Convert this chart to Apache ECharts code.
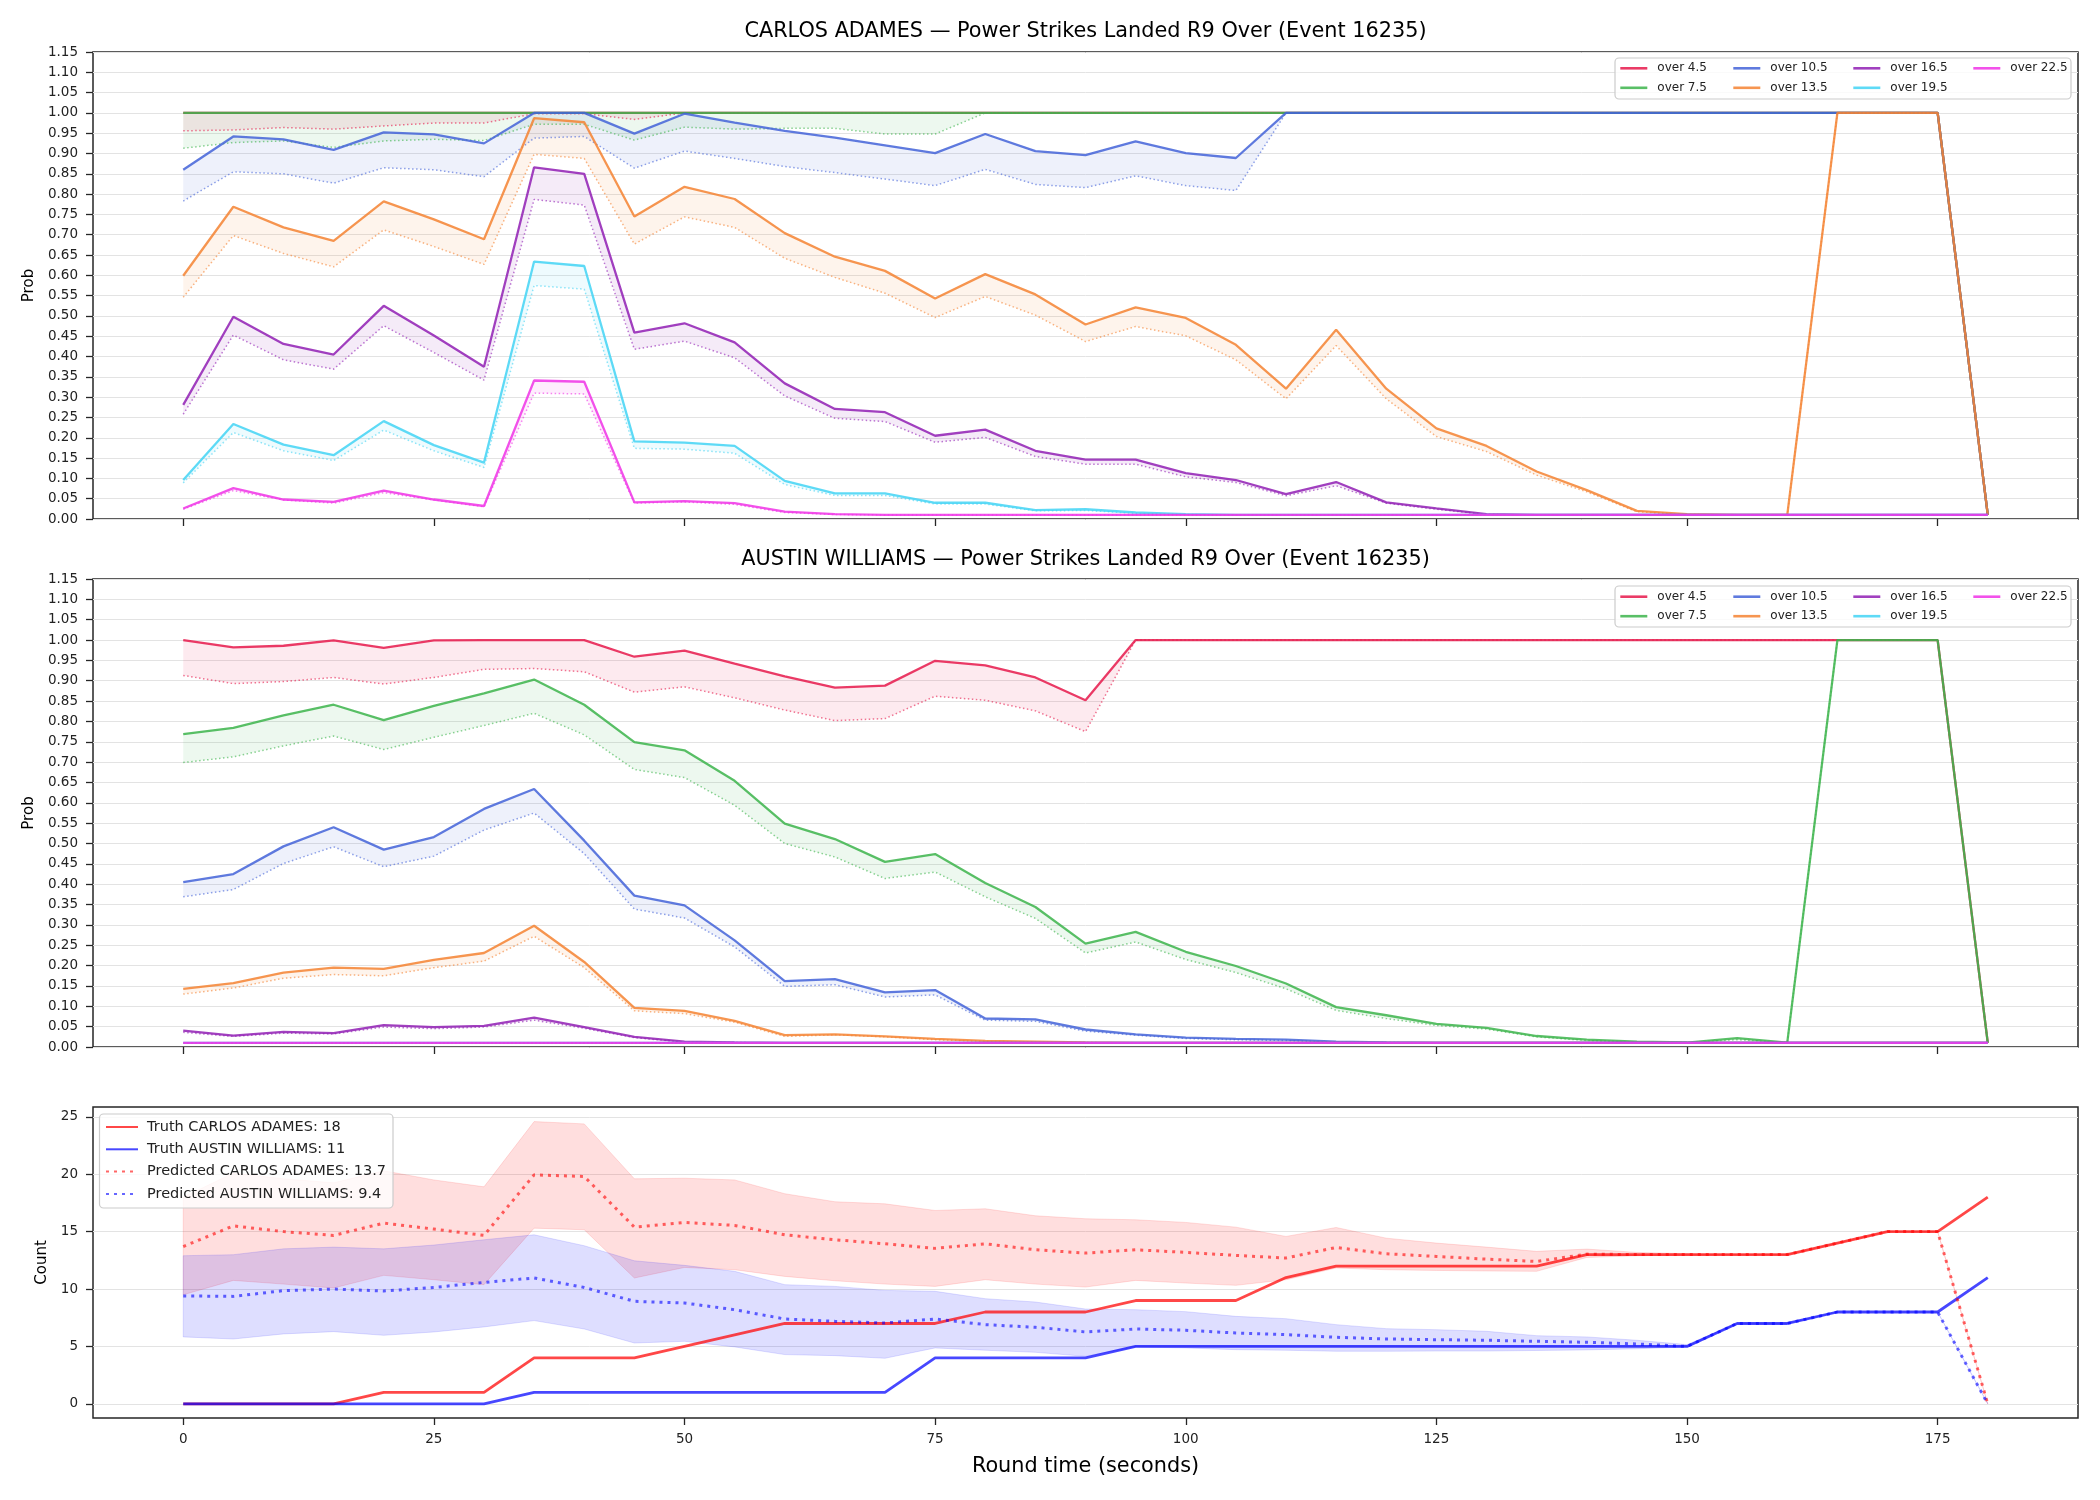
<!DOCTYPE html>
<html><head><meta charset="utf-8">
<script src="https://cdn.jsdelivr.net/npm/echarts@6/dist/echarts.min.js"></script>
<style>html,body{margin:0;padding:0;background:#fff}#c{width:2100px;height:1500px}</style>
</head><body><div id="c"></div>
<script>
// ---------------- DATA ----------------
const times = [0,5,10,15,20,25,30,35,40,45,50,55,60,65,70,75,80,85,90,95,100,105,110,115,120,125,130,135,140,145,150,155,160,165,170,175,180];
const lineLabels = ['over 4.5','over 7.5','over 10.5','over 13.5','over 16.5','over 19.5','over 22.5'];
const xTicks = [0,25,50,75,100,125,150,175];
const countTicks = [0,5,10,15,20,25];

// CARLOS ADAMES (top panel): solid = market line, Pred = dotted line
const adamesOver45     = [1,1,1,1,1,1,1,1,1,1, 1,1,1,1,1,1,1,1,1,1, 1,1,1,1,1,1,1,1,1,1, 1,1,1,1,1,1, 0.01];
const adamesOver45Pred = [0.956,0.958,0.964,0.960,0.968,0.975,0.975,0.998,0.998,0.984, 1,1,1,1,1,1,1,1,1,1, 1,1,1,1,1,1,1,1,1,1, 1,1,1,1,1,1, 0.01];
const adamesOver75     = [1,1,1,1,1,1,1,1,1,1, 1,1,1,1,1,1,1,1,1,1, 1,1,1,1,1,1,1,1,1,1, 1,1,1,1,1,1, 0.01];
const adamesOver75Pred = [0.913,0.927,0.931,0.915,0.931,0.935,0.932,0.972,0.972,0.933, 0.965,0.960,0.962,0.962,0.948,0.948,1,1,1,1, 1,1,1,1,1,1,1,1,1,1, 1,1,1,1,1,1, 0.01];
const adamesOver105     = [0.860,0.942,0.935,0.909,0.952,0.947,0.925,1,1,0.949, 0.998,0.976,0.956,0.939,0.920,0.901,0.948,0.906,0.896,0.930, 0.901,0.889,1,1,1,1,1,1,1,1, 1,1,1,1,1,1, 0.01];
const adamesOver105Pred = [0.783,0.855,0.850,0.827,0.865,0.860,0.843,0.938,0.942,0.864, 0.906,0.888,0.868,0.853,0.837,0.821,0.861,0.824,0.816,0.845, 0.821,0.809,1,1,1,1,1,1,1,1, 1,1,1,1,1,1, 0.01];
const adamesOver135     = [0.599,0.769,0.718,0.685,0.782,0.738,0.689,0.987,0.977,0.745, 0.818,0.788,0.704,0.646,0.611,0.543,0.603,0.553,0.479,0.521, 0.495,0.429,0.321,0.466,0.321,0.223,0.180,0.117,0.071,0.020, 0.012,0.010,0.010,1,1,1, 0.01];
const adamesOver135Pred = [0.546,0.698,0.654,0.621,0.712,0.671,0.627,0.898,0.888,0.677, 0.744,0.718,0.642,0.595,0.556,0.496,0.548,0.502,0.437,0.474, 0.451,0.392,0.296,0.427,0.296,0.203,0.166,0.108,0.067,0.018, 0.011,0.010,0.010,1,1,1, 0.01];
const adamesOver165     = [0.281,0.498,0.431,0.405,0.525,0.452,0.375,0.866,0.850,0.459, 0.482,0.435,0.334,0.271,0.263,0.205,0.220,0.168,0.146,0.146, 0.113,0.096,0.061,0.091,0.041,0.026,0.012,0.010,0.010,0.010, 0.010,0.010,0.010,0.010,0.010,0.010, 0.010];
const adamesOver165Pred = [0.258,0.453,0.392,0.369,0.476,0.410,0.342,0.787,0.773,0.418, 0.438,0.397,0.303,0.248,0.240,0.189,0.201,0.154,0.135,0.135, 0.104,0.090,0.057,0.082,0.039,0.024,0.011,0.010,0.010,0.010, 0.010,0.010,0.010,0.010,0.010,0.010, 0.010];
const adamesOver195     = [0.096,0.234,0.183,0.157,0.241,0.182,0.139,0.634,0.623,0.191, 0.188,0.180,0.094,0.063,0.063,0.040,0.040,0.022,0.024,0.016, 0.012,0.010,0.010,0.010,0.010,0.010,0.010,0.010,0.010,0.010, 0.010,0.010,0.010,0.010,0.010,0.010, 0.010];
const adamesOver195Pred = [0.089,0.213,0.168,0.144,0.219,0.168,0.127,0.575,0.566,0.174, 0.172,0.162,0.085,0.058,0.058,0.037,0.037,0.020,0.021,0.014, 0.011,0.010,0.010,0.010,0.010,0.010,0.010,0.010,0.010,0.010, 0.010,0.010,0.010,0.010,0.010,0.010, 0.010];
const adamesOver225     = [0.026,0.076,0.048,0.042,0.070,0.048,0.032,0.341,0.338,0.041, 0.044,0.039,0.018,0.012,0.010,0.010,0.010,0.010,0.010,0.010, 0.010,0.010,0.010,0.010,0.010,0.010,0.010,0.010,0.010,0.010, 0.010,0.010,0.010,0.010,0.010,0.010, 0.010];
const adamesOver225Pred = [0.024,0.070,0.047,0.039,0.065,0.047,0.030,0.310,0.308,0.039, 0.042,0.036,0.016,0.011,0.010,0.010,0.010,0.010,0.010,0.010, 0.010,0.010,0.010,0.010,0.010,0.010,0.010,0.010,0.010,0.010, 0.010,0.010,0.010,0.010,0.010,0.010, 0.010];

// AUSTIN WILLIAMS (middle panel)
const williamsOver45     = [1.000,0.982,0.986,0.999,0.981,0.999,1.000,1.000,1.000,0.959, 0.974,0.942,0.911,0.883,0.888,0.949,0.938,0.908,0.852,1, 1,1,1,1,1,1,1,1,1,1, 1,1,1,1,1,1, 0.01];
const williamsOver45Pred = [0.913,0.893,0.898,0.908,0.892,0.908,0.928,0.930,0.922,0.872, 0.885,0.858,0.828,0.802,0.807,0.862,0.852,0.826,0.775,1, 1,1,1,1,1,1,1,1,1,1, 1,1,1,1,1,1, 0.01];
const williamsOver75     = [0.769,0.784,0.815,0.841,0.803,0.838,0.869,0.903,0.841,0.749, 0.729,0.654,0.549,0.511,0.455,0.474,0.403,0.344,0.254,0.283, 0.234,0.199,0.156,0.098,0.078,0.057,0.047,0.027,0.018,0.013, 0.011,0.022,0.011,1,1,1, 0.01];
const williamsOver75Pred = [0.699,0.713,0.740,0.764,0.731,0.761,0.790,0.820,0.767,0.682, 0.662,0.594,0.500,0.467,0.414,0.430,0.369,0.316,0.231,0.258, 0.215,0.183,0.143,0.090,0.070,0.053,0.044,0.025,0.016,0.012, 0.011,0.018,0.011,1,1,1, 0.01];
const williamsOver105     = [0.405,0.425,0.493,0.540,0.485,0.516,0.585,0.634,0.507,0.372, 0.348,0.262,0.162,0.167,0.134,0.140,0.070,0.068,0.043,0.031, 0.023,0.020,0.018,0.013,0.011,0.010,0.010,0.010,0.010,0.010, 0.010,0.010,0.010,0.010,0.010,0.010, 0.010];
const williamsOver105Pred = [0.369,0.387,0.451,0.492,0.443,0.469,0.533,0.575,0.475,0.339, 0.317,0.246,0.149,0.153,0.123,0.128,0.066,0.063,0.039,0.029, 0.021,0.018,0.016,0.012,0.011,0.010,0.010,0.010,0.010,0.010, 0.010,0.010,0.010,0.010,0.010,0.010, 0.010];
const williamsOver135     = [0.143,0.157,0.183,0.195,0.192,0.214,0.231,0.298,0.209,0.096, 0.089,0.064,0.029,0.031,0.026,0.020,0.015,0.013,0.011,0.010, 0.010,0.010,0.010,0.010,0.010,0.010,0.010,0.010,0.010,0.010, 0.010,0.010,0.010,0.010,0.010,0.010, 0.010];
const williamsOver135Pred = [0.130,0.145,0.169,0.178,0.175,0.195,0.211,0.272,0.195,0.089, 0.082,0.061,0.026,0.030,0.025,0.018,0.014,0.012,0.011,0.010, 0.010,0.010,0.010,0.010,0.010,0.010,0.010,0.010,0.010,0.010, 0.010,0.010,0.010,0.010,0.010,0.010, 0.010];
const williamsOver165     = [0.040,0.028,0.037,0.034,0.054,0.049,0.052,0.072,0.049,0.025, 0.013,0.011,0.010,0.010,0.010,0.010,0.010,0.010,0.010,0.010, 0.010,0.010,0.010,0.010,0.010,0.010,0.010,0.010,0.010,0.010, 0.010,0.010,0.010,0.010,0.010,0.010, 0.010];
const williamsOver165Pred = [0.036,0.026,0.034,0.032,0.049,0.045,0.049,0.066,0.046,0.023, 0.012,0.011,0.010,0.010,0.010,0.010,0.010,0.010,0.010,0.010, 0.010,0.010,0.010,0.010,0.010,0.010,0.010,0.010,0.010,0.010, 0.010,0.010,0.010,0.010,0.010,0.010, 0.010];
const williamsOver195     = [0.010,0.010,0.010,0.010,0.010,0.010,0.010,0.010,0.010,0.010, 0.010,0.010,0.010,0.010,0.010,0.010,0.010,0.010,0.010,0.010, 0.010,0.010,0.010,0.010,0.010,0.010,0.010,0.010,0.010,0.010, 0.010,0.010,0.010,0.010,0.010,0.010, 0.010];
const williamsOver195Pred = [0.010,0.010,0.010,0.010,0.010,0.010,0.010,0.010,0.010,0.010, 0.010,0.010,0.010,0.010,0.010,0.010,0.010,0.010,0.010,0.010, 0.010,0.010,0.010,0.010,0.010,0.010,0.010,0.010,0.010,0.010, 0.010,0.010,0.010,0.010,0.010,0.010, 0.010];
const williamsOver225     = [0.010,0.010,0.010,0.010,0.010,0.010,0.010,0.010,0.010,0.010, 0.010,0.010,0.010,0.010,0.010,0.010,0.010,0.010,0.010,0.010, 0.010,0.010,0.010,0.010,0.010,0.010,0.010,0.010,0.010,0.010, 0.010,0.010,0.010,0.010,0.010,0.010, 0.010];
const williamsOver225Pred = [0.010,0.010,0.010,0.010,0.010,0.010,0.010,0.010,0.010,0.010, 0.010,0.010,0.010,0.010,0.010,0.010,0.010,0.010,0.010,0.010, 0.010,0.010,0.010,0.010,0.010,0.010,0.010,0.010,0.010,0.010, 0.010,0.010,0.010,0.010,0.010,0.010, 0.010];

// Count panel
const truthAdames    = [0,0,0,0,1,1,1,4,4,4, 5,6,7,7,7,7,8,8,8,9, 9,9,11,12,12,12,12,12,13,13, 13,13,13,14,15,15, 18];
const truthWilliams  = [0,0,0,0,0,0,0,1,1,1, 1,1,1,1,1,4,4,4,4,5, 5,5,5,5,5,5,5,5,5,5, 5,7,7,8,8,8, 11];
const predAdames     = [13.7,15.5,15.0,14.67,15.74,15.22,14.67,19.94,19.8,15.39, 15.8,15.54,14.72,14.29,13.94,13.54,13.94,13.42,13.13,13.42, 13.19,12.93,12.7,13.62,13.07,12.84,12.6,12.4,13.04,13.0, 13.0,13.0,13.0,14.0,15.0,15.0, 0];
const predWilliams   = [9.4,9.36,9.86,10.0,9.83,10.14,10.58,10.96,10.14,8.93, 8.78,8.2,7.39,7.19,7.04,7.39,6.9,6.67,6.26,6.52, 6.41,6.17,6.03,5.8,5.65,5.59,5.54,5.45,5.36,5.22, 5.0,7,7,8,8,8, 0];
const lowAdames      = [9.5,10.75,10.43,10.09,11.19,10.81,10.38,15.3,15.16,10.96, 11.88,11.68,11.1,10.72,10.43,10.23,10.81,10.43,10.17,10.75, 10.52,10.32,10.81,11.83,11.68,11.62,11.57,11.54,12.75,12.9, 12.96,13,13,14,15,15, 0];
const highAdames     = [18.0,20.1,19.6,19.25,20.3,19.5,18.9,24.58,24.38,19.6, 19.65,19.5,18.3,17.6,17.42,16.84,16.99,16.38,16.12,16.03, 15.8,15.39,14.58,15.36,14.43,14.0,13.65,13.28,13.48,13.19, 13.07,13,13,14,15,15, 0];
const lowWilliams    = [5.83,5.65,6.09,6.29,5.97,6.26,6.7,7.25,6.52,5.3, 5.45,4.96,4.29,4.2,3.97,4.87,4.67,4.49,4.14,4.96, 4.87,4.72,4.67,4.58,4.58,4.6,4.6,4.65,4.7,4.8, 4.95,7,7,8,8,8, 0];
const highWilliams   = [12.9,12.99,13.5,13.65,13.5,13.83,14.29,14.72,13.77,12.46, 12.06,11.54,10.38,10.23,9.88,9.8,9.16,8.87,8.26,8.2, 8.03,7.62,7.42,6.9,6.55,6.46,6.32,5.94,5.83,5.54, 5.16,7,7,8,8,8, 0];

// ---------------- CHART ----------------
const F = 'DejaVu Sans';
const colors = ['#e6194B','#3cb44b','#4363d8','#f58231','#911eb4','#42d4f4','#f032e6'];
function rgba(hex, a) {
  const n = parseInt(hex.slice(1), 16);
  return 'rgba(' + ((n >> 16) & 255) + ',' + ((n >> 8) & 255) + ',' + (n & 255) + ',' + a + ')';
}
const adamesSolid = [adamesOver45, adamesOver75, adamesOver105, adamesOver135, adamesOver165, adamesOver195, adamesOver225];
const adamesPred  = [adamesOver45Pred, adamesOver75Pred, adamesOver105Pred, adamesOver135Pred, adamesOver165Pred, adamesOver195Pred, adamesOver225Pred];
const williamsSolid = [williamsOver45, williamsOver75, williamsOver105, williamsOver135, williamsOver165, williamsOver195, williamsOver225];
const williamsPred  = [williamsOver45Pred, williamsOver75Pred, williamsOver105Pred, williamsOver135Pred, williamsOver165Pred, williamsOver195Pred, williamsOver225Pred];

function pairs(arr) { return times.map((t, i) => [t, arr[i]]); }

function band(gi, lo, hi, fill, stroke) {
  return {
    type: 'custom', xAxisIndex: gi, yAxisIndex: gi, silent: true, z: 2,
    data: times.map((t, i) => [t, lo[i], hi[i]]),
    encode: { x: 0, y: [1, 2] },
    renderItem: function (params, api) {
      if (params.dataIndex !== 0) return null;
      const pts = [];
      for (let i = 0; i < times.length; i++) pts.push(api.coord([times[i], hi[i]]));
      for (let i = times.length - 1; i >= 0; i--) pts.push(api.coord([times[i], lo[i]]));
      return { type: 'polygon', shape: { points: pts },
        style: { fill: fill, stroke: stroke || null, lineWidth: stroke ? 1 : 0 } };
    }
  };
}
function line(gi, name, arr, color, width, dash) {
  return {
    type: 'line', name: name, xAxisIndex: gi, yAxisIndex: gi, data: pairs(arr),
    symbol: 'none', silent: true, z: 3, emphasis: { disabled: true },
    lineStyle: { color: color, width: width, type: dash || 'solid', cap: 'butt' },
    itemStyle: { color: color }
  };
}

const series = [];
[[adamesSolid, adamesPred], [williamsSolid, williamsPred]].forEach(function (set, gi) {
  for (let k = 0; k < 7; k++) {
    series.push(band(gi, set[1][k], set[0][k], rgba(colors[k], 0.09)));
    series.push(line(gi, lineLabels[k] + ' pred ' + gi, set[1][k], rgba(colors[k], 0.6), 1.5, [1.5, 2.5]));
    series.push(line(gi, lineLabels[k], set[0][k], rgba(colors[k], 0.85), 2.3));
  }
});
const nTA = 'Truth CARLOS ADAMES: ' + truthAdames[truthAdames.length - 1];
const nTW = 'Truth AUSTIN WILLIAMS: ' + truthWilliams[truthWilliams.length - 1];
const nPA = 'Predicted CARLOS ADAMES: ' + predAdames[0];
const nPW = 'Predicted AUSTIN WILLIAMS: ' + predWilliams[0];
series.push(band(2, lowAdames, highAdames, 'rgba(255,0,0,0.13)', 'rgba(255,0,0,0.12)'));
series.push(band(2, lowWilliams, highWilliams, 'rgba(0,0,255,0.13)', 'rgba(0,0,255,0.12)'));
series.push(line(2, nTA, truthAdames, 'rgba(255,0,0,0.72)', 2.8));
series.push(line(2, nTW, truthWilliams, 'rgba(0,0,255,0.72)', 2.8));
series.push(line(2, nPA, predAdames, 'rgba(255,0,0,0.6)', 3, [3, 5]));
series.push(line(2, nPW, predWilliams, 'rgba(0,0,255,0.6)', 3, [3, 5]));

const L = 93, W = 1985;
const gridTops = [52, 579, 1107], gridHeights = [467, 468, 311];
const grids = gridTops.map((t, i) => ({
  left: L, width: W, top: t, height: gridHeights[i], show: true,
  borderColor: '#262626', borderWidth: 1.5, backgroundColor: 'transparent',
  containLabel: false, outerBoundsMode: 'none'
}));
const tickStyle = { show: true, length: 7, inside: false, lineStyle: { color: '#262626', width: 1.3 } };
const nameStyle = (size) => ({ fontFamily: F, fontSize: size, fontWeight: 'normal', color: '#000' });
const xAxes = [0, 1, 2].map(i => ({
  type: 'value', gridIndex: i, min: -9, max: 189, position: 'bottom',
  axisLine: { show: false, onZero: false },
  axisTick: Object.assign({ customValues: xTicks }, tickStyle),
  axisLabel: { show: i === 2, customValues: xTicks, margin: 14.5, fontFamily: F, fontSize: 13.5, fontWeight: 'normal', color: '#222' },
  splitLine: { show: false },
  name: i === 2 ? 'Round time (seconds)' : '', nameLocation: 'middle', nameGap: 38,
  nameTextStyle: nameStyle(20.8)
}));
const splitLineStyle = { show: true, lineStyle: { color: '#e3e3e3', width: 1 } };
const yAxes = [0, 1].map(i => ({
  type: 'value', gridIndex: i, min: 0, max: 1.15, interval: 0.05, position: 'left',
  axisLine: { show: false, onZero: false }, axisTick: tickStyle,
  axisLabel: { margin: 15, fontFamily: F, fontSize: 13.5, fontWeight: 'normal', color: '#222', formatter: v => v.toFixed(2) },
  splitLine: splitLineStyle,
  name: 'Prob', nameLocation: 'middle', nameRotate: 90, nameGap: 54,
  nameTextStyle: nameStyle(15)
}));
yAxes.push({
  type: 'value', gridIndex: 2, min: -1.23, max: 25.85, position: 'left',
  axisLine: { show: false, onZero: false },
  axisTick: Object.assign({ customValues: countTicks }, tickStyle),
  axisLabel: { customValues: countTicks, margin: 15, fontFamily: F, fontSize: 13.5, fontWeight: 'normal', color: '#222' },
  splitLine: splitLineStyle,
  name: 'Count', nameLocation: 'middle', nameRotate: 90, nameGap: 43,
  nameTextStyle: nameStyle(15)
});

const legendCols = [['over 4.5', 'over 7.5'], ['over 10.5', 'over 13.5'], ['over 16.5', 'over 19.5'], ['over 22.5']];
const colLefts = [1619, 1732, 1852, 1972];
const legends = [];
[61.3, 589.7].forEach(function (top) {
  legendCols.forEach(function (names, c) {
    legends.push({
      show: true, orient: 'vertical', left: colLefts[c], top: top, padding: 0,
      itemGap: 5.5, itemWidth: 27, itemHeight: 2, data: names, selectedMode: false, z: 10,
      itemStyle: { opacity: 0 }, lineStyle: { width: 2.6 },
      textStyle: { fontFamily: F, fontSize: 12, fontWeight: 'normal', color: '#222', lineHeight: 14, padding: [0, 0, 0, 5] }
    });
  });
});
legends.push({
  show: true, orient: 'vertical', left: 105, top: 1119, padding: 0,
  itemGap: 6.3, itemWidth: 32, itemHeight: 2, data: [nTA, nTW, nPA, nPW], selectedMode: false, z: 10,
  itemStyle: { opacity: 0 },
  textStyle: { fontFamily: F, fontSize: 14.5, fontWeight: 'normal', color: '#222', lineHeight: 16, padding: [0, 0, 0, 4] }
});

const frame = (x, y, w, h) => ({
  type: 'rect', shape: { x: x, y: y, width: w, height: h, r: 4 }, silent: true, z: 8,
  style: { fill: 'rgba(255,255,255,0.8)', stroke: '#cccccc', lineWidth: 1.2 }
});

const chart = echarts.init(document.getElementById('c'), null, { renderer: 'canvas' });
chart.setOption({
  animation: false,
  backgroundColor: '#ffffff',
  title: [
    { text: 'CARLOS ADAMES — Power Strikes Landed R9 Over (Event 16235)', left: 1085.5, top: 21.5, textAlign: 'center', padding: 0,
      textStyle: { fontFamily: F, fontSize: 20.8, fontWeight: 'normal', color: '#000' } },
    { text: 'AUSTIN WILLIAMS — Power Strikes Landed R9 Over (Event 16235)', left: 1085.5, top: 549, textAlign: 'center', padding: 0,
      textStyle: { fontFamily: F, fontSize: 20.8, fontWeight: 'normal', color: '#000' } }
  ],
  grid: grids, xAxis: xAxes, yAxis: yAxes, legend: legends,
  graphic: { elements: [frame(1615, 58, 456, 41), frame(1615, 586, 456, 41), frame(99.5, 1114, 293.5, 94)] },
  series: series
});
</script></body></html>
